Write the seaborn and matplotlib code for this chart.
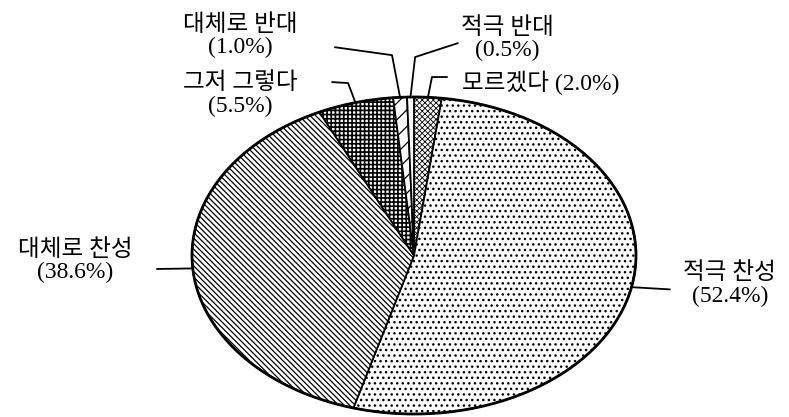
import numpy as np
import matplotlib
matplotlib.use('Agg')
import matplotlib.pyplot as plt
import matplotlib.patches as mpatches
import seaborn as sns

## estilo
sns.set_theme(style='white')
plt.rcParams['font.family'] = ['Liberation Serif', 'Noto Sans CJK KR']
plt.rcParams['hatch.linewidth'] = 0.8
plt.rcParams['hatch.color'] = 'black'

## datos (sentido horario desde las 12)
categorias = ['모르겠다', '적극 찬성', '대체로 찬성', '그저 그렇다', '대체로 반대', '적극 반대']
porcentajes = [2.0, 52.4, 38.6, 5.5, 1.0, 0.5]
tramas = ['xxxxxx', '...', '\\\\\\\\\\\\', '++++', '//', '']
grosor_trama = [0.6, 1.0, 0.9, 1.2, 0.9, 0.8]

## posicion de etiquetas y lineas guia (coordenadas del eje)
layout = {
    '모르겠다': dict(texto=(0.216, 1.088), ha='left', guia=[(0.081, 1.126), (0.149, 1.126)]),
    '적극 찬성': dict(texto=(1.423, -0.185), ha='center', guia=[(1.153, -0.214)]),
    '대체로 찬성': dict(texto=(-1.527, -0.035), ha='center', guia=[(-1.158, -0.085)]),
    '그저 그렇다': dict(texto=(-0.784, 1.013), ha='center', guia=[(-0.297, 1.088), (-0.369, 1.094)]),
    '대체로 반대': dict(texto=(-0.784, 1.384), ha='center', guia=[(-0.099, 1.264), (-0.356, 1.314)]),
    '적극 반대': dict(texto=(0.419, 1.365), ha='center', guia=[(0.005, 1.252), (0.198, 1.340)]),
}


def grafico_torta():
    fig = plt.figure(figsize=(7.89, 4.17), dpi=100)
    ax = fig.add_axes([192 / 789, 3 / 417, 444 / 789, 317 / 417])

    wedges, _ = ax.pie(porcentajes, startangle=90, counterclock=False,
                       wedgeprops=dict(edgecolor='black', linewidth=1.3, facecolor='white'))
    for w, h, g in zip(wedges, tramas, grosor_trama):
        w.set_hatch(h)
        if hasattr(w, 'set_hatch_linewidth'):
            w.set_hatch_linewidth(g)
        w.set_clip_on(False)

    ax.set_aspect('auto')
    ax.set_xlim(-1, 1)
    ax.set_ylim(-1, 1)
    ax.axis('off')
    ax.add_patch(mpatches.Circle((0, 0), 1, fill=False, edgecolor='black', linewidth=2, clip_on=False))

    for w, cat, val in zip(wedges, categorias, porcentajes):
        lay = layout[cat]
        ang = np.deg2rad((w.theta1 + w.theta2) / 2)
        puntos = [(np.cos(ang), np.sin(ang))] + lay['guia']
        xs, ys = zip(*puntos)
        ax.plot(xs, ys, color='black', linewidth=1.3, clip_on=False)
        if cat == '모르겠다':
            etiqueta = cat + ' (' + str(val) + '%)'
        else:
            etiqueta = cat + '\n(' + str(val) + '%)'
        ax.text(lay['texto'][0], lay['texto'][1], etiqueta, ha=lay['ha'], va='center',
                multialignment='center', fontsize=17, color='black', linespacing=1.1)

    fig.savefig('out.png', dpi=100)


grafico_torta()
